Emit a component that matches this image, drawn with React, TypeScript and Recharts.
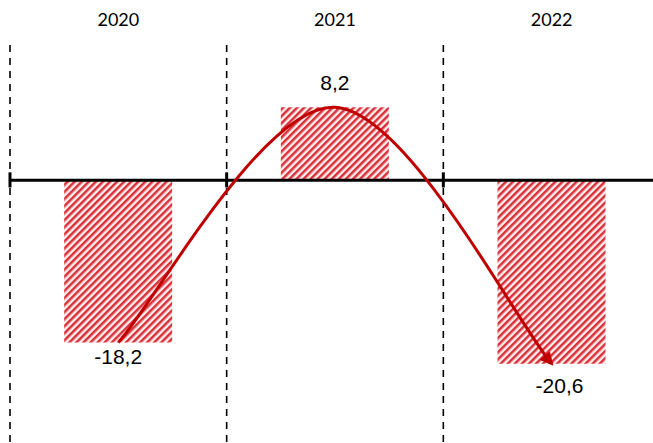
import React from 'react';
import {
  ComposedChart, Bar, Line, XAxis, YAxis, ReferenceLine, LabelList,
} from 'recharts';

// chart values
const years = ['2020', '2021', '2022'];
const changes = [-18.2, 8.2, -20.6];

const data = years.map((year, i) => ({ year, change: changes[i] }));

// dashed separators sit on the edges of each year band
const boundaries = [
  ...years.map((year) => ({ year, pos: 'start' as const })),
  { year: years[years.length - 1], pos: 'end' as const },
];

// small nudges so labels clear the arrow
const labelShift = [
  { dx: 0, dy: 0 },
  { dx: 0, dy: 0 },
  { dx: 8, dy: 7 },
];

const fmt = (v: number) => v.toFixed(1).replace('.', ',');

// cardinal spline (tension 0), like d3.curveCardinal
const cardinalCurve = (context: any) => {
  let pts: number[][] = [];
  return {
    areaStart() {},
    areaEnd() {},
    lineStart() { pts = []; },
    point(x: number, y: number) { pts.push([+x, +y]); },
    lineEnd() {
      if (!pts.length) return;
      context.moveTo(pts[0][0], pts[0][1]);
      for (let i = 0; i < pts.length - 1; i++) {
        const p0 = pts[i - 1] || pts[i];
        const p1 = pts[i];
        const p2 = pts[i + 1];
        const p3 = pts[i + 2] || pts[i + 1];
        context.bezierCurveTo(
          p1[0] + (p2[0] - p0[0]) / 6, p1[1] + (p2[1] - p0[1]) / 6,
          p2[0] - (p3[0] - p1[0]) / 6, p2[1] - (p3[1] - p1[1]) / 6,
          p2[0], p2[1],
        );
      }
    },
  };
};

const ValueLabel = (props: any) => {
  const { x, y, width, height, value, index } = props;
  const top = Math.min(y, y + height);
  const bottom = Math.max(y, y + height);
  const shift = labelShift[index] || { dx: 0, dy: 0 };
  const cx = x + width / 2 + shift.dx;
  const ty = value < 0 ? bottom + 22 + shift.dy : top - 17;
  return (
    <text
      x={cx}
      y={ty}
      textAnchor="middle"
      fontFamily="'Liberation Sans', Arial, sans-serif"
      fontSize={21}
      fill="#000"
    >
      {fmt(value)}
    </text>
  );
};

const App: React.FC = () => {
  return (
    <div style={{ position: 'absolute', left: 0, top: 0, width: 653, height: 443, overflow: 'hidden', background: '#fff' }}>
      <ComposedChart
        width={660}
        height={443}
        data={data}
        margin={{ top: 0, right: 0, bottom: 0, left: 10 }}
        barCategoryGap="25%"
      >
        <defs>
          <pattern id="hatch" patternUnits="userSpaceOnUse" width="5" height="5" patternTransform="rotate(45)">
            <rect x="0" y="0" width="5" height="5" fill="#fcecec" />
            <rect x="0" y="0" width="2.5" height="5" fill="#d83039" />
          </pattern>
          <marker id="arrowHead" viewBox="0 0 10 10" refX="8" refY="5" markerWidth="4.5" markerHeight="4.5" orient="auto" markerUnits="strokeWidth">
            <path d="M0,0 L10,5 L0,10 z" fill="#c00000" />
          </marker>
        </defs>
        <XAxis
          dataKey="year"
          orientation="top"
          height={45}
          axisLine={false}
          tickLine={false}
          tickMargin={13}
          interval={0}
          tick={{ fontFamily: 'Lato, Calibri, sans-serif', fontSize: 18, fill: '#000' }}
        />
        <YAxis domain={[-29.5, 15.2]} hide allowDataOverflow />
        {boundaries.map((b, i) => (
          <ReferenceLine
            key={`d${i}`}
            x={b.year}
            position={b.pos}
            ifOverflow="visible"
            stroke="#000"
            strokeWidth={1.6}
            strokeDasharray="7 6"
          />
        ))}
        <Bar dataKey="change" fill="url(#hatch)" isAnimationActive={false}>
          <LabelList dataKey="change" content={ValueLabel} />
        </Bar>
        <ReferenceLine y={0} stroke="#000" strokeWidth={3} />
        {boundaries.map((b, i) => (
          <ReferenceLine
            key={`t${i}`}
            position={b.pos}
            ifOverflow="visible"
            segment={[{ x: b.year, y: -0.8 }, { x: b.year, y: 0.9 }]}
            stroke="#000"
            strokeWidth={3}
          />
        ))}
        <Line
          type={cardinalCurve as any}
          dataKey="change"
          stroke="#c00000"
          strokeWidth={3}
          dot={false}
          activeDot={false}
          markerEnd="url(#arrowHead)"
          isAnimationActive={false}
        />
      </ComposedChart>
    </div>
  );
};

export default App;
